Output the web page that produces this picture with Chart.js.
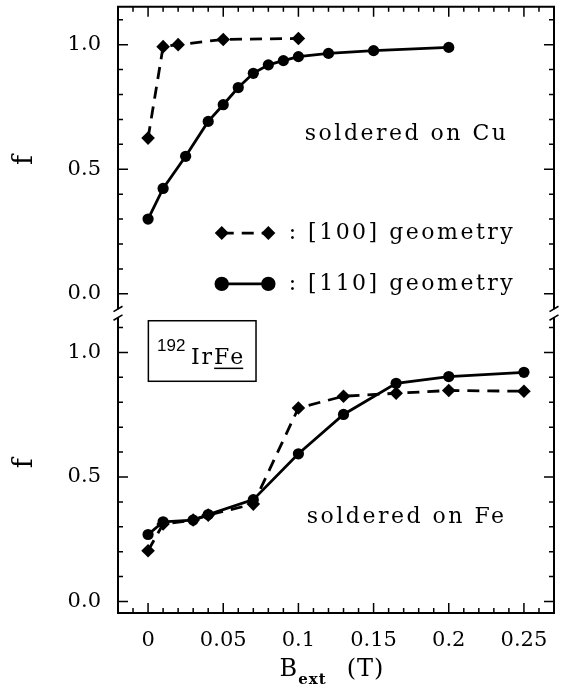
<!DOCTYPE html>
<html>
<head>
<meta charset="utf-8">
<script src="https://cdn.jsdelivr.net/npm/chart.js@4.4.1/dist/chart.umd.min.js"></script>
<style>
  body { margin: 0; background: #fff; }
  canvas { display: block; }
</style>
</head>
<body>
<canvas id="myChart" width="563" height="687"></canvas>
<script>
// B_ext (T) and f
// soldered on Cu (top panel)
const cuB100 = [0, 0.01, 0.02, 0.05, 0.1];
const cuF100 = [0.625, 0.992, 1.0, 1.021, 1.025];
const cuB110 = [0, 0.01, 0.025, 0.04, 0.05, 0.06, 0.07, 0.08, 0.09, 0.1, 0.12, 0.15, 0.2];
const cuF110 = [0.30, 0.423, 0.552, 0.692, 0.759, 0.828, 0.885, 0.919, 0.936, 0.952, 0.965, 0.976, 0.989];

// soldered on Fe (bottom panel)
const feB100 = [0, 0.01, 0.03, 0.04, 0.07, 0.1, 0.13, 0.165, 0.2, 0.25];
const feF100 = [0.204, 0.311, 0.327, 0.347, 0.391, 0.777, 0.824, 0.836, 0.847, 0.844];
const feB110 = [0, 0.01, 0.03, 0.04, 0.07, 0.1, 0.13, 0.165, 0.2, 0.25];
const feF110 = [0.269, 0.320, 0.327, 0.349, 0.409, 0.593, 0.751, 0.876, 0.903, 0.920];

const xTicks = [0, 0.05, 0.1, 0.15, 0.2, 0.25];
const fTicks = [0, 0.5, 1];

const serif = '"DejaVu Serif", serif';
const ctx = document.getElementById('myChart');

function pairs(xs, ys) {
    return xs.map((x, i) => ({ x: x, y: ys[i] }));
}

function series(xs, ys, axis, dashed) {
    return {
        data: pairs(xs, ys),
        yAxisID: axis,
        borderColor: '#000',
        backgroundColor: '#000',
        borderWidth: 2.8,
        borderDash: dashed ? [12, 8] : [],
        pointStyle: dashed ? 'rectRot' : 'circle',
        pointRadius: dashed ? 6.8 : 5.6,
        pointBorderWidth: 0,
        pointBackgroundColor: '#000',
        tension: 0,
        fill: false
    };
}

function fAxis(min, max) {
    return {
        type: 'linear',
        position: 'left',
        stack: 'f',
        stackWeight: max - min,
        min: min,
        max: max,
        afterBuildTicks: (scale) => { scale.ticks = fTicks.map(v => ({ value: v })); },
        afterFit: (scale) => {
            scale.width = 118;
            scale.paddingTop = 0;
            scale.paddingBottom = 0;
        },
        grid: { display: false, drawTicks: false },
        border: { display: false },
        ticks: {
            padding: 17,
            color: '#000',
            font: { family: serif, size: 21 },
            callback: (v) => v.toFixed(1)
        },
        title: {
            display: true,
            text: 'f',
            color: '#000',
            font: { family: serif, size: 27 },
            padding: { top: 9, bottom: 0 }
        }
    };
}

function drawDiamond(c, x, y, r) {
    c.beginPath();
    c.moveTo(x, y - r); c.lineTo(x + r, y); c.lineTo(x, y + r); c.lineTo(x - r, y);
    c.closePath();
    c.fill();
}

function drawDot(c, x, y, r) {
    c.beginPath();
    c.arc(x, y, r, 0, Math.PI * 2);
    c.fill();
}

// frame with inward ticks and the axis break
const framePlugin = {
    id: 'frame',
    afterDatasetsDraw(chart) {
        const c = chart.ctx;
        const a = chart.chartArea;
        const xs = chart.scales.x;
        const yT = chart.scales.yTop;
        const yB = chart.scales.yBot;
        const brk = (yT.bottom + yB.top) / 2;
        c.save();
        c.strokeStyle = '#000';
        c.lineWidth = 2;
        c.beginPath();
        c.moveTo(a.left, brk - 4);
        c.lineTo(a.left, a.top);
        c.lineTo(a.right, a.top);
        c.lineTo(a.right, brk - 4);
        c.moveTo(a.left, brk + 4);
        c.lineTo(a.left, a.bottom);
        c.lineTo(a.right, a.bottom);
        c.lineTo(a.right, brk + 4);
        c.stroke();

        c.lineWidth = 1.6;
        c.beginPath();
        [a.left, a.right].forEach(px => {
            [-4.3, 4.3].forEach(d => {
                c.moveTo(px - 4.5, brk + d + 2.7);
                c.lineTo(px + 4.5, brk + d - 2.7);
            });
        });
        c.stroke();

        c.lineWidth = 1.5;
        c.beginPath();
        for (let i = -1; i <= 26; i++) {
            const px = xs.getPixelForValue(i / 100);
            const len = i % 5 === 0 ? 10 : 5;
            c.moveTo(px, a.top); c.lineTo(px, a.top + len);
            c.moveTo(px, a.bottom); c.lineTo(px, a.bottom - len);
        }
        [yT, yB].forEach(s => {
            for (let i = 0; i <= 11; i++) {
                const py = s.getPixelForValue(i / 10);
                const len = i % 5 === 0 ? 10 : 5;
                c.moveTo(a.left, py); c.lineTo(a.left + len, py);
                c.moveTo(a.right, py); c.lineTo(a.right - len, py);
            }
        });
        c.stroke();
        c.restore();
    }
};

// panel labels, legend, sample box and x axis title
const notesPlugin = {
    id: 'notes',
    afterDraw(chart) {
        const c = chart.ctx;
        const a = chart.chartArea;
        const xs = chart.scales.x;
        const yT = chart.scales.yTop;
        const yB = chart.scales.yBot;
        c.save();
        c.fillStyle = '#000';
        c.strokeStyle = '#000';
        c.letterSpacing = '2.5px';
        c.font = '22px ' + serif;
        c.textBaseline = 'middle';
        c.textAlign = 'center';
        c.fillText('soldered on Cu', xs.getPixelForValue(0.172), yT.getPixelForValue(0.64));
        c.fillText('soldered on Fe', xs.getPixelForValue(0.172), yB.getPixelForValue(0.339));

        // legend
        c.textAlign = 'left';
        const lx0 = xs.getPixelForValue(0.049);
        const lx1 = xs.getPixelForValue(0.080);
        const ly0 = yT.getPixelForValue(0.244);
        const ly1 = yT.getPixelForValue(0.04);
        c.lineWidth = 2.8;
        c.setLineDash([12, 8]);
        c.lineDashOffset = -20;
        c.beginPath(); c.moveTo(lx0, ly0); c.lineTo(lx1, ly0); c.stroke();
        c.setLineDash([]);
        c.beginPath(); c.moveTo(lx0, ly1); c.lineTo(lx1, ly1); c.stroke();
        drawDiamond(c, lx0, ly0, 7);
        drawDiamond(c, lx1, ly0, 7);
        drawDot(c, lx0, ly1, 7.2);
        drawDot(c, lx1, ly1, 7.2);
        const tx = xs.getPixelForValue(0.0935);
        c.fillText(': [100] geometry', tx, ly0);
        c.fillText(': [110] geometry', tx, ly1);

        // sample box
        const bx0 = xs.getPixelForValue(0.0002);
        const bx1 = xs.getPixelForValue(0.0718);
        const by0 = yB.getPixelForValue(1.127);
        const by1 = yB.getPixelForValue(0.884);
        c.lineWidth = 1.5;
        c.strokeRect(bx0, by0, bx1 - bx0, by1 - by0);
        c.textBaseline = 'alphabetic';
        c.letterSpacing = '0px';
        c.font = '17px "Liberation Sans", sans-serif';
        c.fillText('192', xs.getPixelForValue(0.006), yB.getPixelForValue(1.007));
        c.letterSpacing = '2px';
        c.font = '22px ' + serif;
        const ix = xs.getPixelForValue(0.0285);
        const iy = yB.getPixelForValue(0.954);
        c.fillText('Ir', ix, iy);
        const wIr = c.measureText('Ir').width;
        c.fillText('Fe', ix + wIr, iy);
        const wFe = c.measureText('Fe').width;
        c.lineWidth = 1.5;
        c.beginPath();
        c.moveTo(ix + wIr, iy + 4.5);
        c.lineTo(ix + wIr + wFe - 2, iy + 4.5);
        c.stroke();

        // x axis title: B_ext (T)
        c.letterSpacing = '1px';
        c.font = '24px ' + serif;
        const wB = c.measureText('B').width;
        const wT = c.measureText('(T)').width;
        c.font = 'bold 15px ' + serif;
        const wE = c.measureText('ext').width;
        const gap = 20;
        let x0 = (a.left + a.right) / 2 - (wB + wE + gap + wT) / 2 - 4;
        const base = 676;
        c.font = '24px ' + serif;
        c.fillText('B', x0, base);
        c.font = 'bold 15px ' + serif;
        c.fillText('ext', x0 + wB, base + 8);
        c.font = '24px ' + serif;
        c.fillText('(T)', x0 + wB + wE + gap, base);
        c.restore();
    }
};

const myChart = new Chart(ctx, {
    type: 'line',
    data: {
        datasets: [
            series(cuB100, cuF100, 'yTop', true),
            series(cuB110, cuF110, 'yTop', false),
            series(feB100, feF100, 'yBot', true),
            series(feB110, feF110, 'yBot', false)
        ]
    },
    options: {
        responsive: false,
        animation: false,
        devicePixelRatio: 1,
        layout: { padding: { top: 5, right: 9, left: 0, bottom: 0 } },
        plugins: {
            legend: { display: false },
            tooltip: { enabled: false }
        },
        scales: {
            x: {
                type: 'linear',
                min: -0.02,
                max: 0.27,
                afterBuildTicks: (scale) => { scale.ticks = xTicks.map(v => ({ value: v })); },
                afterFit: (scale) => {
                    scale.height = 74;
                    scale.paddingLeft = 0;
                    scale.paddingRight = 0;
                },
                grid: { display: false, drawTicks: false },
                border: { display: false },
                ticks: {
                    padding: 15,
                    color: '#000',
                    maxRotation: 0,
                    font: { family: serif, size: 21 },
                    callback: (v) => String(v)
                }
            },
            yBot: fAxis(-0.046, 1.157),
            yTop: fAxis(-0.078, 1.152)
        }
    },
    plugins: [framePlugin, notesPlugin]
});
</script>
</body>
</html>
